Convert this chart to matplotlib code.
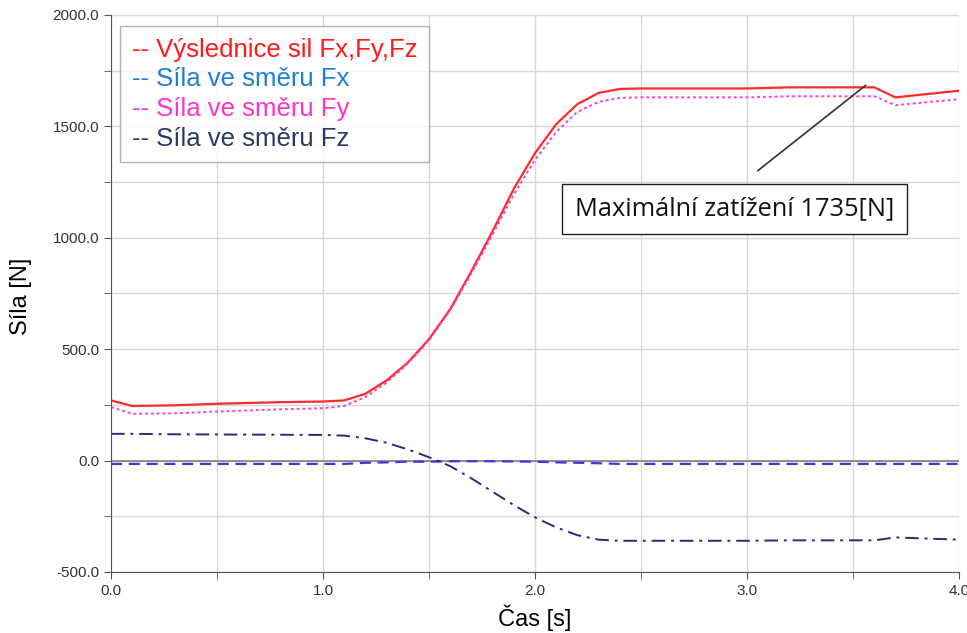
import numpy as np
import matplotlib
matplotlib.use("Agg")
from matplotlib import pyplot as plt
from matplotlib.ticker import MultipleLocator, FormatStrFormatter

# data (time in s, force in N)
t = [0.0, 0.1, 0.3, 0.5, 0.8, 1.0, 1.1, 1.2, 1.3, 1.4, 1.5, 1.6, 1.7, 1.8,
     1.9, 2.0, 2.1, 2.2, 2.3, 2.4, 2.5, 3.0, 3.2, 3.6, 3.7, 4.0]
f_res = [270, 245, 248, 255, 262, 265, 270, 300, 360, 440, 545, 680, 850, 1030,
         1220, 1380, 1510, 1600, 1650, 1668, 1670, 1670, 1675, 1675, 1630, 1660]
f_y = [240, 210, 212, 220, 230, 235, 245, 285, 350, 435, 540, 675, 840, 1015,
       1195, 1350, 1475, 1565, 1610, 1628, 1630, 1630, 1635, 1635, 1595, 1622]
f_x = [-15, -15, -15, -15, -15, -15, -15, -10, -8, -5, -5, -3, -3, -3,
       -4, -5, -8, -10, -12, -15, -15, -15, -15, -15, -15, -15]
f_z = [120, 120, 118, 117, 116, 115, 112, 100, 80, 50, 15, -25, -80, -140,
       -200, -255, -300, -335, -355, -360, -360, -360, -358, -358, -345, -355]

labels = ['-- Výslednice sil Fx,Fy,Fz', '-- Síla ve směru Fx',
          '-- Síla ve směru Fy', '-- Síla ve směru Fz']
text_colors = ['#ff1a1a', '#1f7fd0', '#ff33cc', '#2b3a67']

plt.rcParams['font.family'] = ['Liberation Sans', 'DejaVu Sans']

fig = plt.figure(figsize=(9.67, 6.33), dpi=100)
ax = fig.add_axes([0.1148, 0.0964, 0.877, 0.88])

ax.plot(t, f_res, color='#ff2a2a', lw=1.6, ls='-', label=labels[0])
ax.plot(t, f_x, color='#3a3ae0', lw=1.6, ls=(0, (5, 3)), label=labels[1])
ax.plot(t, f_y, color='#ff40c8', lw=1.4, ls=(0, (1.5, 1.5)), label=labels[2])
ax.plot(t, f_z, color='#2a2a7a', lw=1.4, ls=(0, (7, 3, 1.5, 3)), label=labels[3])

ax.axhline(0, color='#808080', lw=1.2, zorder=1)

ax.set_xlim(0, 4)
ax.set_ylim(-500, 2000)
ax.xaxis.set_major_locator(MultipleLocator(1))
ax.xaxis.set_minor_locator(MultipleLocator(0.5))
ax.yaxis.set_major_locator(MultipleLocator(500))
ax.yaxis.set_minor_locator(MultipleLocator(250))
ax.xaxis.set_major_formatter(FormatStrFormatter('%.1f'))
ax.yaxis.set_major_formatter(FormatStrFormatter('%.1f'))
ax.grid(which='both', color='#d8d8d8', lw=1.0)
ax.set_axisbelow(True)
ax.tick_params(which='both', direction='out', length=5, color='#555555',
               labelsize=11, labelcolor='#333333')
for side in ('top', 'right'):
    ax.spines[side].set_visible(False)
for side in ('left', 'bottom'):
    ax.spines[side].set_color('#555555')

ax.set_xlabel('Čas [s]', fontsize=17)
ax.set_ylabel('Síla [N]', fontsize=17)
ax.xaxis.set_label_coords(0.5, -0.058)
ax.yaxis.set_label_coords(-0.093, 0.495)

leg = ax.legend(loc='upper left', bbox_to_anchor=(0.0106, 0.98), borderaxespad=0,
                handlelength=0, handletextpad=0, fontsize=18.5, frameon=True,
                fancybox=False, edgecolor='#a0a0a0', borderpad=0.45,
                labelspacing=0.22)
for h in leg.legend_handles:
    h.set_visible(False)
for txt, c in zip(leg.get_texts(), text_colors):
    txt.set_color(c)
leg.get_frame().set_linewidth(1.0)

# annotation of the maximum load
ax.annotate('', xy=(3.57, 1692), xytext=(3.04, 1293),
            arrowprops=dict(arrowstyle='-', color='#333333', lw=1.2))
ax.text(2.94, 1129, 'Maximální zatížení 1735[N]', fontsize=18.3,
        family=['Open Sans', 'DejaVu Sans'], color='#111111',
        ha='center', va='center',
        bbox=dict(boxstyle='square,pad=0.5', fc='white', ec='#222222', lw=1.0))

fig.savefig('out.png', dpi=100)
